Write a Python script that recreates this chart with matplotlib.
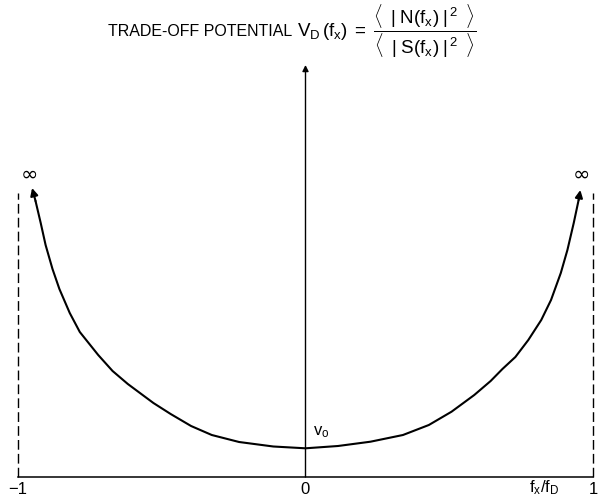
import matplotlib.pyplot as plt

plt.rcParams['font.family'] = ['Liberation Sans', 'DejaVu Sans']
plt.rcParams['mathtext.fontset'] = 'custom'
plt.rcParams['mathtext.rm'] = 'Liberation Sans'
plt.rcParams['mathtext.it'] = 'Liberation Sans'
plt.rcParams['mathtext.sf'] = 'Liberation Sans'

# trade-off potential V_D vs normalised frequency f_x/f_D (arbitrary units)
fx = [-0.951, -0.939, -0.921, -0.904, -0.880, -0.856, -0.820, -0.785, -0.721,
      -0.671, -0.618, -0.529, -0.469, -0.398, -0.326, -0.231, -0.112, 0.0,
      0.113, 0.226, 0.339, 0.429, 0.508, 0.587, 0.644, 0.685, 0.730, 0.775,
      0.820, 0.854, 0.888, 0.911, 0.933, 0.950, 0.956]
vd = [2.89, 2.76, 2.54, 2.32, 2.08, 1.88, 1.64, 1.45, 1.22,
      1.06, 0.93, 0.74, 0.63, 0.51, 0.42, 0.35, 0.305, 0.287,
      0.31, 0.353, 0.42, 0.52, 0.653, 0.82, 0.96, 1.08, 1.20, 1.37,
      1.57, 1.77, 2.04, 2.27, 2.54, 2.77, 2.87]
v0 = 0.287
x_ticks = [-1, 0, 1]
tick_labels = ['\u22121', '0', '1']
dash_top = 2.84
axis_top = 4.12

fig = plt.figure(figsize=(5.98, 5.01), dpi=100)
ax = fig.add_axes([0, 0, 1, 1])
ax.set_xlim(-1.0626, 1.0174)
ax.set_ylim(-0.24, 4.77)
ax.axis('off')

# curve, ending in arrow heads at both sides
ax.plot(fx[1:-1], vd[1:-1], color='black', lw=1.5, solid_capstyle='round',
        solid_joinstyle='round')
for a, b in [(1, 0), (-2, -1)]:
    ax.annotate('', xy=(fx[b], vd[b]), xytext=(fx[a], vd[a]),
                arrowprops=dict(arrowstyle='-|>', color='black', lw=1.5,
                                mutation_scale=11, shrinkA=0, shrinkB=0))

# axes
ax.plot([-1, 1], [0, 0], color='black', lw=1.1)
ax.annotate('', xy=(0, axis_top), xytext=(0, 0),
            arrowprops=dict(arrowstyle='-|>', color='black', lw=1.0,
                            mutation_scale=9, shrinkA=0, shrinkB=0))

# asymptotes at f_x = +-f_D
for xd in [-1, 1]:
    ax.plot([xd, xd], [0, dash_top], color='black', lw=1.0,
            linestyle=(0, (7, 3)))
    ax.text(xd * 0.96, 3.02, '\u221e', fontsize=15, ha='center', va='center',
            family=['DejaVu Sans'])

for x, lab in zip(x_ticks, tick_labels):
    ax.text(x, -0.13, lab, fontsize=12, ha='center', va='center')

ax.text(0.83, -0.11, r'$\mathrm{f_x/f_D}$', fontsize=12, ha='center', va='center')
ax.text(0.025, v0 + 0.08, r'$\mathrm{v_o}$', fontsize=12, ha='left', va='bottom')

fig.text(0.181, 0.937, 'TRADE-OFF POTENTIAL', fontsize=11.5, ha='left', va='center')
fig.text(0.496, 0.937,
         r'$\mathrm{V_D\,(f_x)}\;=\;\dfrac{\langle\;\;|\;\mathrm{N(f_x)}\;|^{\,2}\;\;\rangle}'
         r'{\langle\;\;|\;\mathrm{S(f_x)}\;|^{\,2}\;\;\rangle}$',
         fontsize=13.5, ha='left', va='center')

fig.savefig('out.png', dpi=100)
